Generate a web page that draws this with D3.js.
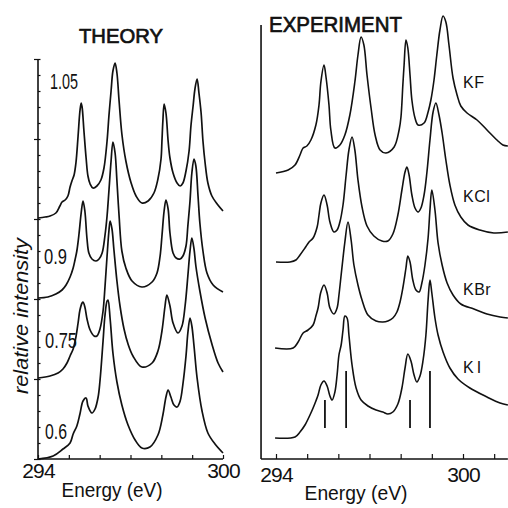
<!DOCTYPE html>
<html>
<head>
<meta charset="utf-8">
<script src="https://cdn.jsdelivr.net/npm/d3@7"></script>
<style>
  html, body { margin: 0; padding: 0; background: #fff; }
  svg { display: block; }
  text { font-family: "Liberation Sans", Arial, sans-serif; fill: #111; }
</style>
</head>
<body>
<svg id="chart" width="508" height="508"></svg>
<script>
// ---------- THEORY: model spectra, [energy eV, intensity above own baseline] ----------
const theoryNames = ["0.6", "0.75", "0.9", "1.05"];
const theoryOffsets = [0, 80, 160, 240];

const theory060 = [
  [294.00,0],[294.49,3],[294.81,10],[295.04,16],[295.14,25],[295.26,33],[295.36,45],[295.46,58],
  [295.56,61],[295.62,53],[295.75,46],[295.85,50],[295.95,62],[296.01,78],[296.11,118],[296.17,143],
  [296.24,158],[296.27,159],[296.34,140],[296.43,106],[296.56,77],[296.72,54],[296.92,34],[297.15,19],
  [297.37,11],[297.63,12],[297.89,24],[298.05,44],[298.15,62],[298.22,69],[298.31,62],[298.41,54],
  [298.51,52],[298.61,58],[298.70,75],[298.80,103],[298.86,126],[298.93,141],[298.99,133],[299.06,113],
  [299.16,81],[299.32,48],[299.51,26],[299.74,15],[300.00,6]
];
const theory075 = [
  [294.00,1],[294.39,3],[294.65,6],[294.81,10],[294.94,16],[295.04,23],[295.14,30],[295.23,42],
  [295.30,56],[295.36,69],[295.43,76],[295.46,77],[295.52,72],[295.59,60],[295.69,49],[295.82,43],
  [295.91,43],[296.01,50],[296.11,68],[296.17,91],[296.24,123],[296.30,148],[296.34,158],[296.40,150],
  [296.46,130],[296.56,98],[296.66,73],[296.79,50],[296.92,35],[297.08,23],[297.37,12],[297.70,16],
  [297.89,28],[298.02,48],[298.12,73],[298.18,84],[298.28,73],[298.38,56],[298.54,46],[298.67,53],
  [298.77,73],[298.86,103],[298.93,128],[298.99,141],[299.06,130],[299.12,113],[299.25,88],[299.42,61],
  [299.64,35],[299.84,16],[300.00,7]
];
const theory090 = [
  [294.00,1],[294.32,2],[294.58,5],[294.78,9],[294.91,14],[295.04,22],[295.14,31],[295.20,39],
  [295.26,48],[295.33,65],[295.40,86],[295.46,98],[295.52,88],[295.59,60],[295.65,46],[295.75,40],
  [295.88,38],[295.98,40],[296.08,46],[296.17,63],[296.24,83],[296.30,108],[296.37,138],[296.43,157],
  [296.50,146],[296.56,118],[296.63,83],[296.72,48],[296.85,31],[297.05,18],[297.37,12],[297.70,17],
  [297.86,26],[297.96,43],[298.02,63],[298.09,88],[298.15,99],[298.22,90],[298.28,66],[298.38,46],
  [298.48,41],[298.61,40],[298.70,43],[298.80,53],[298.86,73],[298.93,98],[298.99,126],[299.06,140],
  [299.12,133],[299.19,103],[299.25,76],[299.35,48],[299.48,26],[299.68,14],[300.00,7]
];
const theory105 = [
  [294.00,1],[294.23,2],[294.39,3],[294.58,6],[294.71,13],[294.78,17],[294.88,19],[294.97,23],
  [295.04,32],[295.10,38],[295.17,44],[295.23,56],[295.30,83],[295.36,108],[295.40,116],[295.43,112],
  [295.49,88],[295.56,61],[295.62,43],[295.69,35],[295.78,31],[295.91,33],[296.04,39],[296.14,51],
  [296.24,78],[296.30,103],[296.37,128],[296.43,148],[296.50,156],[296.56,146],[296.63,118],[296.72,85],
  [296.85,58],[297.02,36],[297.18,23],[297.37,16],[297.57,18],[297.76,26],[297.89,40],[297.99,60],
  [298.02,78],[298.05,98],[298.09,115],[298.15,106],[298.22,78],[298.28,61],[298.38,46],[298.51,36],
  [298.61,33],[298.70,36],[298.80,48],[298.90,68],[298.96,93],[299.03,113],[299.09,130],[299.16,140],
  [299.22,126],[299.29,106],[299.35,78],[299.42,56],[299.51,36],[299.64,23],[299.81,15],[300.00,8]
];
const theorySeries = [theory060, theory075, theory090, theory105];

// ---------- EXPERIMENT: measured spectra of potassium halides ----------
const expNames = ["KI", "KBr", "KCl", "KF"];
const expOffsets = [21, 111, 197, 286];

const expKI = [
  [293.97,0],[294.61,1],[294.77,6],[294.93,13],[295.09,23],[295.19,30],[295.28,37],[295.35,43],
  [295.44,53],[295.54,57],[295.64,52],[295.73,42],[295.80,38],[295.89,46],[295.96,63],[296.02,83],
  [296.09,93],[296.15,108],[296.21,122],[296.28,120],[296.34,103],[296.44,73],[296.57,50],[296.73,38],
  [296.95,32],[297.21,28],[297.43,26],[297.59,24],[297.75,26],[297.91,34],[298.04,50],[298.14,70],
  [298.23,84],[298.33,77],[298.43,63],[298.52,56],[298.62,62],[298.72,78],[298.81,103],[298.88,138],
  [298.94,158],[299.00,145],[299.10,120],[299.20,103],[299.36,86],[299.58,70],[299.84,59],[300.22,50],
  [300.77,41],[301.19,35],[301.44,33]
];
const expKBr = [
  [293.97,0],[294.55,0],[294.71,6],[294.87,15],[295.03,18],[295.19,23],[295.28,32],[295.35,40],
  [295.44,56],[295.54,63],[295.64,55],[295.73,40],[295.86,34],[295.96,40],[296.02,53],[296.09,73],
  [296.15,90],[296.21,106],[296.31,126],[296.41,108],[296.50,83],[296.63,63],[296.76,48],[296.95,33],
  [297.21,27],[297.43,26],[297.59,27],[297.75,30],[297.88,36],[297.98,46],[298.07,60],[298.17,80],
  [298.23,92],[298.30,86],[298.39,68],[298.49,58],[298.59,56],[298.68,65],[298.78,83],[298.88,110],
  [298.94,138],[299.00,158],[299.10,138],[299.20,105],[299.33,83],[299.49,65],[299.68,53],[299.93,44],
  [300.35,39],[300.77,34],[301.19,31],[301.44,30]
];
const expKCl = [
  [294.00,0],[294.45,0],[294.64,2],[294.77,7],[294.93,14],[295.06,20],[295.19,24],[295.32,35],
  [295.38,47],[295.44,59],[295.54,67],[295.64,57],[295.73,40],[295.86,30],[295.96,32],[296.05,40],
  [296.15,57],[296.25,87],[296.34,112],[296.44,125],[296.53,112],[296.63,82],[296.76,55],[296.92,36],
  [297.14,26],[297.40,21],[297.59,21],[297.75,28],[297.91,47],[298.04,72],[298.14,90],[298.20,95],
  [298.27,87],[298.36,67],[298.46,54],[298.56,50],[298.65,54],[298.75,67],[298.84,89],[298.94,122],
  [299.04,150],[299.13,159],[299.23,147],[299.33,129],[299.45,102],[299.58,77],[299.74,57],[299.93,45],
  [300.16,37],[300.54,32],[300.99,29],[301.44,30]
];
const expKF = [
  [294.00,0],[294.39,3],[294.61,8],[294.77,18],[294.87,25],[294.99,27],[295.12,33],[295.28,48],
  [295.38,68],[295.44,91],[295.54,108],[295.60,97],[295.70,68],[295.76,43],[295.89,25],[296.05,28],
  [296.21,38],[296.37,58],[296.53,91],[296.63,118],[296.73,136],[296.82,128],[296.92,98],[297.05,65],
  [297.18,38],[297.34,23],[297.53,20],[297.79,26],[297.95,43],[298.01,56],[298.07,88],[298.11,108],
  [298.17,133],[298.23,125],[298.30,98],[298.36,73],[298.46,55],[298.56,48],[298.75,50],[298.88,61],
  [298.97,73],[299.07,93],[299.16,118],[299.26,143],[299.36,157],[299.45,151],[299.55,128],[299.68,95],
  [299.81,78],[299.93,67],[300.13,60],[300.45,53],[300.77,43],[301.09,33],[301.28,28],[301.44,27]
];
const expSeries = [expKI, expKBr, expKCl, expKF];

// Calculated line positions shown under the KI spectrum
const stickEnergies = [295.57, 296.25, 298.30, 298.94];
const stickFrom = [31, 31, 31, 31];
const stickTo = [59, 88, 59, 88];

// Axis ticks
const theoryTicks = [294, 295, 296, 297, 298, 299, 300];
const expTicks = [294, 295, 296, 297, 298, 299, 300, 301];
const tickLabels = [294, 300];
const expEnergyExtent = [293.52, 301.44];

// ---------- drawing ----------
const svg = d3.select("#chart");
const ink = "#111";

const xL = d3.scaleLinear().domain([294, 300]).range([38, 223]);
const yL = d3.scaleLinear().domain([0, 400]).range([459, 59]);
const xR = d3.scaleLinear().domain([294, 300]).range([276, 463]);
const yR = d3.scaleLinear().domain([0, 434]).range([459, 25]);

const curve = d3.curveCatmullRom.alpha(0.5);

// Left panel axes
const gL = svg.append("g");
gL.append("line").attr("x1", xL(294)).attr("x2", xL(294)).attr("y1", yL(400)).attr("y2", yL(0))
  .attr("stroke", ink).attr("stroke-width", 1.6);
gL.append("line").attr("x1", xL(294)).attr("x2", xL(300)).attr("y1", yL(0)).attr("y2", yL(0))
  .attr("stroke", ink).attr("stroke-width", 1.6);

const majorY = gL.append("g").attr("transform", `translate(${xL(294)},0)`)
  .call(d3.axisLeft(yL).tickValues(d3.range(0, 401, 80)).tickSize(4).tickSizeOuter(0).tickFormat(""));
const minorY = gL.append("g").attr("transform", `translate(${xL(294)},0)`)
  .call(d3.axisRight(yL).tickValues(d3.range(0, 401, 16)).tickSize(2.5).tickSizeOuter(0).tickFormat(""));
[majorY, minorY].forEach(g => {
  g.select(".domain").remove();
  g.selectAll("line").attr("stroke", ink).attr("stroke-width", 1.2);
});

const bottomL = gL.append("g").attr("transform", `translate(0,${yL(0)})`)
  .call(d3.axisBottom(xL).tickValues(theoryTicks).tickSize(-4).tickSizeOuter(0)
    .tickPadding(4).tickFormat(d => tickLabels.includes(d) ? d : ""));
bottomL.select(".domain").remove();
bottomL.selectAll("line").attr("stroke", ink).attr("stroke-width", 1.2);
bottomL.selectAll("text").attr("fill", ink).attr("font-size", 21)
  .attr("font-family", "'Liberation Sans', Arial, sans-serif").attr("letter-spacing", -0.8);

// Theory curves
const lineL = d3.line().x(d => xL(d[0])).curve(curve);
theorySeries.forEach((s, i) => {
  svg.append("path").datum(s)
    .attr("d", lineL.y(d => yL(d[1] + theoryOffsets[i])))
    .attr("fill", "none").attr("stroke", ink).attr("stroke-width", 1.7)
    .attr("stroke-linejoin", "round");
});

// Theory curve labels
const theoryLabelPos = [[45, 439, 22], [45, 348, 32], [44, 264, 23], [50, 89, 28]];
theoryNames.forEach((n, i) => {
  const p = theoryLabelPos[i];
  svg.append("text").attr("x", p[0]).attr("y", p[1]).attr("font-size", 22)
    .attr("textLength", p[2]).attr("lengthAdjust", "spacingAndGlyphs").text(n);
});

svg.append("text").attr("x", 121).attr("y", 43).attr("text-anchor", "middle")
  .attr("font-size", 21).attr("textLength", 84).attr("lengthAdjust", "spacingAndGlyphs")
  .attr("stroke", ink).attr("stroke-width", 0.7).text("THEORY");

svg.append("text").attr("transform", "translate(28,316) rotate(-90)").attr("text-anchor", "middle")
  .attr("font-size", 21).attr("font-style", "italic")
  .attr("textLength", 156).attr("lengthAdjust", "spacingAndGlyphs").text("relative intensity");

svg.append("text").attr("x", 112).attr("y", 497).attr("text-anchor", "middle")
  .attr("font-size", 20).attr("textLength", 101).attr("lengthAdjust", "spacingAndGlyphs")
  .text("Energy (eV)");

// Right panel axes
const gR = svg.append("g");
gR.append("line").attr("x1", xR(expEnergyExtent[0])).attr("x2", xR(expEnergyExtent[0]))
  .attr("y1", yR(434)).attr("y2", yR(0)).attr("stroke", ink).attr("stroke-width", 1.6);
gR.append("line").attr("x1", xR(expEnergyExtent[0])).attr("x2", xR(expEnergyExtent[1]))
  .attr("y1", yR(0)).attr("y2", yR(0)).attr("stroke", ink).attr("stroke-width", 1.6);

const bottomR = gR.append("g").attr("transform", `translate(0,${yR(0)})`)
  .call(d3.axisBottom(xR).tickValues(expTicks).tickSize(-5).tickSizeOuter(0)
    .tickPadding(8).tickFormat(d => tickLabels.includes(d) ? d : ""));
bottomR.select(".domain").remove();
bottomR.selectAll("line").attr("stroke", ink).attr("stroke-width", 1.2);
bottomR.selectAll("text").attr("fill", ink).attr("font-size", 21)
  .attr("font-family", "'Liberation Sans', Arial, sans-serif").attr("letter-spacing", -0.8);

// Experimental curves
const lineR = d3.line().x(d => xR(d[0])).curve(curve);
expSeries.forEach((s, i) => {
  svg.append("path").datum(s)
    .attr("d", lineR.y(d => yR(d[1] + expOffsets[i])))
    .attr("fill", "none").attr("stroke", ink).attr("stroke-width", 1.6)
    .attr("stroke-linejoin", "round");
});

// Sticks under KI
svg.append("g").selectAll("line").data(stickEnergies).join("line")
  .attr("x1", d => xR(d)).attr("x2", d => xR(d))
  .attr("y1", (d, i) => yR(stickFrom[i])).attr("y2", (d, i) => yR(stickTo[i]))
  .attr("stroke", ink).attr("stroke-width", 1.8);

// Experimental labels
const expLabelY = [373, 295, 202, 88];
expNames.forEach((n, i) => {
  svg.append("text").attr("x", 463).attr("y", expLabelY[i]).attr("font-size", 16)
    .attr("letter-spacing", n === "KI" ? 3 : 0.5).text(n);
});

svg.append("text").attr("x", 269).attr("y", 32).attr("font-size", 22)
  .attr("stroke", ink).attr("stroke-width", 0.7)
  .attr("textLength", 133).attr("lengthAdjust", "spacingAndGlyphs")
  .text("EXPERIMENT");

svg.append("text").attr("x", 356).attr("y", 500).attr("text-anchor", "middle")
  .attr("font-size", 20).attr("textLength", 103).attr("lengthAdjust", "spacingAndGlyphs")
  .text("Energy (eV)");
</script>
</body>
</html>
